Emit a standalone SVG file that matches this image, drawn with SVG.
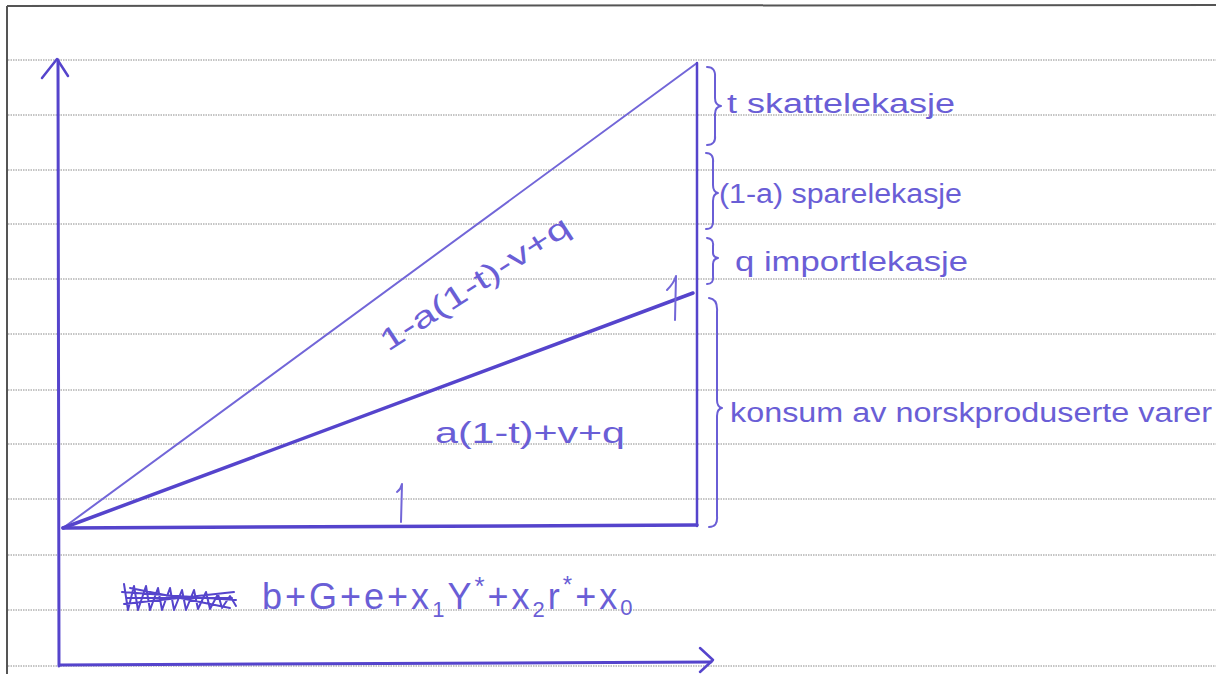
<svg xmlns="http://www.w3.org/2000/svg" width="1216" height="674" viewBox="0 0 1216 674">
<style>
.rule{stroke:#8a8a8a;stroke-width:1;stroke-dasharray:1.5 1}
.ink{fill:none;stroke:#5544cc;stroke-linecap:round;stroke-linejoin:round}
.thin{fill:none;stroke:#7266d8;stroke-width:2;stroke-linecap:round;stroke-linejoin:round}
.brace{fill:none;stroke:#6a5ed6;stroke-width:2;stroke-linecap:round;stroke-linejoin:round}
.t{font-family:"Liberation Sans",Arial,sans-serif;fill:#6a5ed6;font-weight:normal}
</style>
<rect width="1216" height="674" fill="#ffffff"/>
<g id="paper">
<line x1="7" y1="6" x2="1216" y2="5" stroke="#555" stroke-width="2"/>
<line x1="7" y1="6" x2="7" y2="674" stroke="#555" stroke-width="2"/>
<line class="rule" x1="8" y1="60" x2="1216" y2="60"/>
<line class="rule" x1="8" y1="115" x2="1216" y2="115"/>
<line class="rule" x1="8" y1="170" x2="1216" y2="170"/>
<line class="rule" x1="8" y1="224" x2="1216" y2="224"/>
<line class="rule" x1="8" y1="279" x2="1216" y2="279"/>
<line class="rule" x1="8" y1="334" x2="1216" y2="334"/>
<line class="rule" x1="8" y1="390" x2="1216" y2="390"/>
<line class="rule" x1="8" y1="444" x2="1216" y2="444"/>
<line class="rule" x1="8" y1="499" x2="1216" y2="499"/>
<line class="rule" x1="8" y1="555" x2="1216" y2="555"/>
<line class="rule" x1="8" y1="610" x2="1216" y2="610"/>
<line class="rule" x1="8" y1="666" x2="1216" y2="666"/>
</g>
<g id="axes">
<path class="ink" stroke-width="3" d="M59,666 L58,60"/>
<path class="ink" stroke-width="2.5" d="M42,78 L57,59 L68,76"/>
<path class="ink" stroke-width="3" d="M60,665 L711,662"/>
<path class="ink" stroke-width="2.5" d="M700,648 L713,660 L700,672"/>
</g>
<g id="triangle">
<path class="thin" d="M63,528 L697,63"/>
<path class="ink" stroke-width="3.5" d="M63,528 L693,293"/>
<path class="ink" stroke-width="3.5" d="M63,528 L697,525"/>
<path class="ink" stroke-width="2.5" d="M697,63 L697,526"/>
<path class="thin" d="M397,492 Q401,489 402,484 L401,522"/>
<path class="thin" d="M667,290 Q674,283 676,276 L675,320"/>
</g>
<g id="braces">
<path class="brace" d="M707,67 Q716,67 715,78 L715,98 Q715,105 721,106 Q715,107 715,114 L715,135 Q716,145 707,145"/>
<path class="brace" d="M706,153 Q714,153 713,163 L713,185 Q713,192 718,193 Q713,194 713,201 L713,220 Q714,229 706,229"/>
<path class="brace" d="M707,238 Q714,239 713,246 L713,253 Q713,257 718,258 Q713,259 713,264 L713,276 Q714,284 707,284"/>
<path class="brace" d="M709,298 Q718,299 717,312 L717,400 Q717,407 722,408 Q717,409 717,416 L717,516 Q718,527 709,527"/>
</g>
<g id="labels">
<text class="t" x="727" y="113" font-size="27" textLength="228" lengthAdjust="spacingAndGlyphs">t  skattelekasje</text>
<text class="t" x="719" y="203" font-size="27" textLength="243" lengthAdjust="spacingAndGlyphs">(1-a)  sparelekasje</text>
<text class="t" x="735" y="271" font-size="27" textLength="233" lengthAdjust="spacingAndGlyphs">q  importlekasje</text>
<text class="t" x="730" y="422" font-size="27" textLength="482" lengthAdjust="spacingAndGlyphs">konsum av norskproduserte varer</text>
<text class="t" x="435" y="443" font-size="30" textLength="190" lengthAdjust="spacingAndGlyphs">a(1-t)+v+q</text>
<text class="t" x="0" y="0" font-size="30" textLength="220" lengthAdjust="spacingAndGlyphs" transform="translate(388,352) rotate(-33)">1-a(1-t)-v+q</text>
</g>
<g id="bottom-expression">
<path class="ink" stroke-width="2" d="M124,584 L128,610 L134,586 L138,610 L146,586 L150,610 L158,588 L162,610 L170,588 L174,610 L182,590 L186,610 L194,590 L198,609 L206,592 L210,609 L218,594 L222,608 L230,596 L236,606 M122,592 L236,600 M124,604 L234,592 M126,598 L232,598 M130,588 L230,608"/>
<text class="t" x="262" y="609" font-size="36" letter-spacing="3">b+G+e+x<tspan font-size="22" dy="8">1</tspan><tspan dy="-8">Y</tspan><tspan font-size="26" dy="-14">*</tspan><tspan dy="14">+x</tspan><tspan font-size="22" dy="8">2</tspan><tspan dy="-8">r</tspan><tspan font-size="24" dy="-16">*</tspan><tspan dy="16">+x</tspan><tspan font-size="22" dy="6">0</tspan></text>
</g>
</svg>
